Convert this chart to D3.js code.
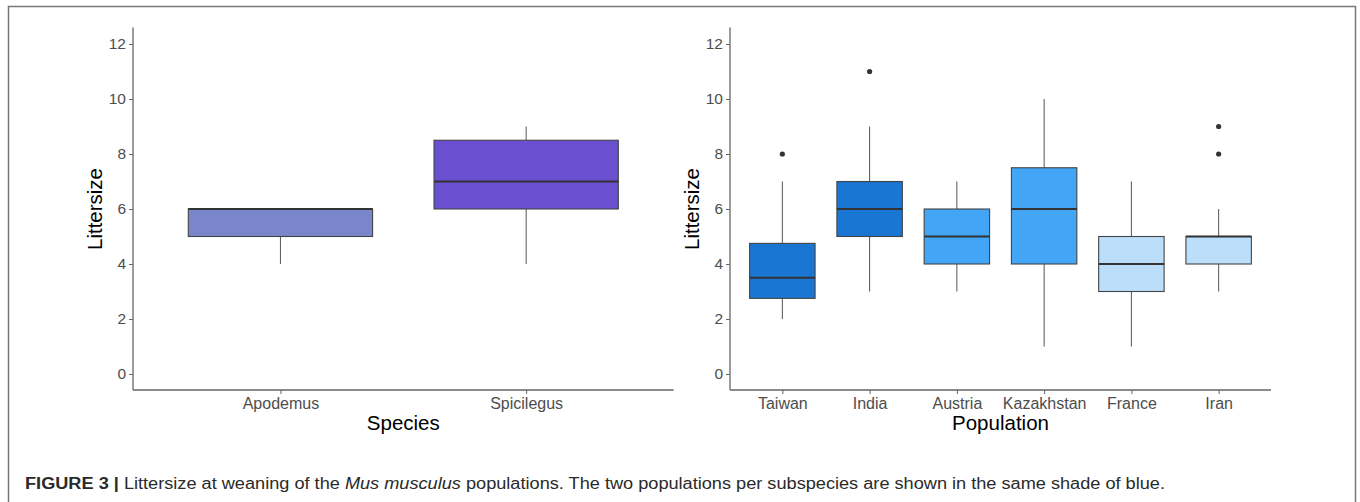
<!DOCTYPE html>
<html><head><meta charset="utf-8">
<script src="https://cdn.jsdelivr.net/npm/d3@7"></script>
<style>html,body{margin:0;padding:0;background:#fff;}svg{display:block;}</style>
</head><body>
<svg id="c" width="1360" height="502"></svg>
<script>
// ---- data ----
const speciesCats = ["Apodemus", "Spicilegus"];
const speciesColors = ["#7986CB", "#6A50D0"];
// [lowerWhisker, Q1, median, Q3, upperWhisker]
const speciesStats = [[4, 5, 6, 6, 6], [4, 6, 7, 8.5, 9]];
const speciesOutliers = [[], []];

const popCats = ["Taiwan", "India", "Austria", "Kazakhstan", "France", "Iran"];
const popColors = ["#1976D2", "#1976D2", "#42A5F5", "#42A5F5", "#BBDEFB", "#BBDEFB"];
const popStats = [[2, 2.75, 3.5, 4.75, 7], [3, 5, 6, 7, 9], [3, 4, 5, 6, 7], [1, 4, 6, 7.5, 10], [1, 3, 4, 5, 7], [3, 4, 5, 5, 6]];
const popOutliers = [[8], [11], [], [], [], [8, 9]];

const yTicks = [0, 2, 4, 6, 8, 10, 12];

// ---- drawing ----
const svg = d3.select("#c");
// figure frame
svg.append("path").attr("d", "M8.5,502 V6.5 H1355.5 V502")
  .attr("fill", "none").attr("stroke", "#777").attr("stroke-width", 1.5);

const y = d3.scaleLinear().domain([-0.6, 12.6]).range([390.5, 27.5]);

function panel(x0, x1, cats, stats, outs, colors, xTitle, yTitleX) {
  const g = svg.append("g");
  const x = d3.scalePoint().domain(cats).range([x0, x1]).padding(0.6);
  const bw = x.step() * 0.75;

  // axes
  const ya = g.append("g").attr("transform", `translate(${x0},0)`)
    .call(d3.axisLeft(y).tickValues(yTicks).tickSize(4).tickPadding(3));
  const xa = g.append("g").attr("transform", `translate(0,390)`)
    .call(d3.axisBottom(x).tickSize(4).tickPadding(2));
  [ya, xa].forEach(a => {
    a.select(".domain").attr("stroke", "#666").attr("stroke-width", 1.3);
    a.selectAll(".tick line").attr("stroke", "#666").attr("stroke-width", 1);
    a.selectAll(".tick text").attr("fill", "#4D4D4D")
      .attr("font-family", "Liberation Sans, Arial, sans-serif");
  });
  ya.selectAll(".tick text").attr("font-size", 15.5);
  xa.selectAll(".tick text").attr("font-size", 16).attr("dy", "0.8em");
  ya.select(".domain").attr("d", `M0,${y.range()[1]}V390`);
  xa.select(".domain").attr("d", `M${x0},0H${x1}`);

  // boxes
  cats.forEach((c, i) => {
    const s = stats[i], cx = x(c);
    g.append("line").attr("x1", cx).attr("x2", cx).attr("y1", y(s[0])).attr("y2", y(s[1]))
      .attr("stroke", "#555").attr("stroke-width", 1);
    g.append("line").attr("x1", cx).attr("x2", cx).attr("y1", y(s[3])).attr("y2", y(s[4]))
      .attr("stroke", "#555").attr("stroke-width", 1);
    g.append("rect").attr("x", cx - bw / 2).attr("width", bw)
      .attr("y", y(s[3])).attr("height", y(s[1]) - y(s[3]))
      .attr("fill", colors[i]).attr("stroke", "#444").attr("stroke-width", 1.1);
    g.append("line").attr("x1", cx - bw / 2).attr("x2", cx + bw / 2)
      .attr("y1", y(s[2])).attr("y2", y(s[2]))
      .attr("stroke", "#333").attr("stroke-width", 2.2);
    outs[i].forEach(o => {
      g.append("circle").attr("cx", cx).attr("cy", y(o)).attr("r", 2.6).attr("fill", "#333");
    });
  });

  g.append("text").attr("x", (x0 + x1) / 2).attr("y", 430).attr("text-anchor", "middle")
    .attr("font-size", 20.5).attr("font-family", "Liberation Sans, Arial, sans-serif")
    .attr("fill", "#000").text(xTitle);
  g.append("text").attr("transform", `translate(${yTitleX},${y(6)}) rotate(-90)`)
    .attr("text-anchor", "middle").attr("font-size", 20.5)
    .attr("font-family", "Liberation Sans, Arial, sans-serif").attr("fill", "#000")
    .text("Littersize");
}

panel(133, 673.6, speciesCats, speciesStats, speciesOutliers, speciesColors, "Species", 102);
panel(730, 1271, popCats, popStats, popOutliers, popColors, "Population", 699);

// caption
const cap = svg.append("text").attr("x", 25).attr("y", 489)
  .attr("font-size", 16).attr("font-family", "Liberation Sans Narrow, Arial Narrow, Liberation Sans, sans-serif")
  .attr("fill", "#2a2a2a")
  .attr("textLength", 1140).attr("lengthAdjust", "spacingAndGlyphs");
cap.append("tspan").attr("font-weight", "bold").text("FIGURE 3 |");
cap.append("tspan").text(" Littersize at weaning of the ");
cap.append("tspan").attr("font-style", "italic").text("Mus musculus");
cap.append("tspan").text(" populations. The two populations per subspecies are shown in the same shade of blue.");
</script>
</body></html>
